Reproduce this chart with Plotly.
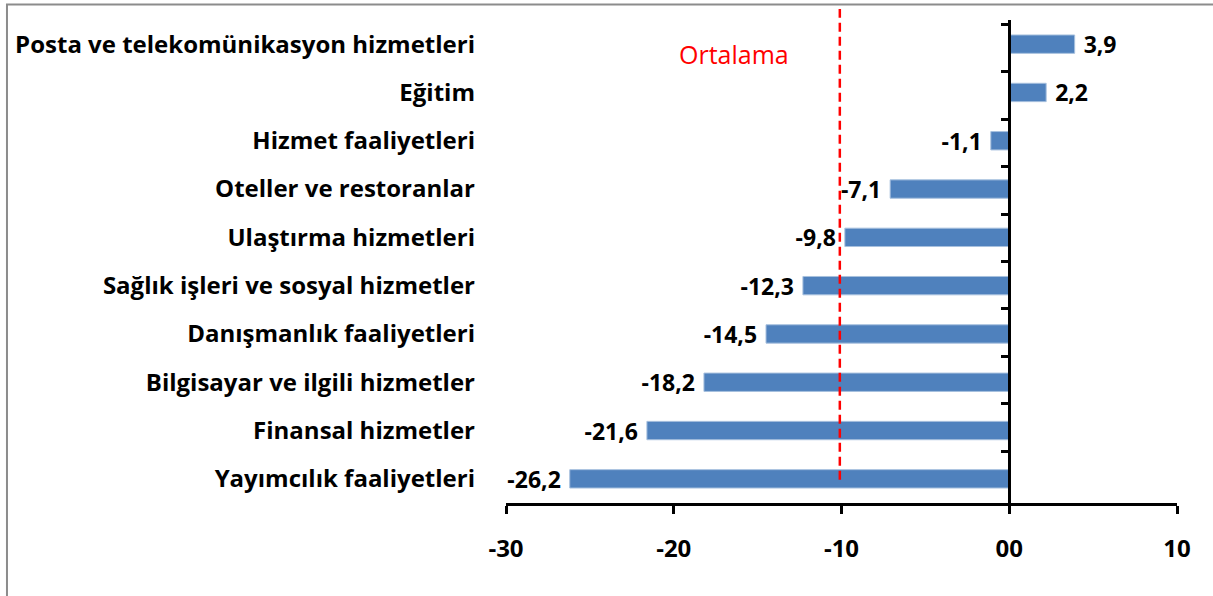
import plotly.graph_objects as go

categories = [
    "Posta ve telekomünikasyon hizmetleri",
    "Eğitim",
    "Hizmet faaliyetleri",
    "Oteller ve restoranlar",
    "Ulaştırma hizmetleri",
    "Sağlık işleri ve sosyal hizmetler",
    "Danışmanlık faaliyetleri",
    "Bilgisayar ve ilgili hizmetler",
    "Finansal hizmetler",
    "Yayımcılık faaliyetleri",
]
values = [3.9, 2.2, -1.1, -7.1, -9.8, -12.3, -14.5, -18.2, -21.6, -26.2]
average = -10.1
average_label = "Ortalama"
x_tickvals = [-30, -20, -10, 0, 10]
x_ticktext = ["-30", "-20", "-10", "00", "10"]

# value labels with decimal comma, padded away from the bar end
labels = [(" " + f"{v:.1f}".replace(".", ",")) if v >= 0 else (f"{v:.1f}".replace(".", ",") + " ")
          for v in values]

FONT = "Open Sans"

fig = go.Figure()
fig.add_trace(go.Bar(
    x=values, y=categories, orientation="h",
    marker=dict(color="#4F81BD", line=dict(color="#A7C0DE", width=1)),
    text=labels, textposition="outside", cliponaxis=False, constraintext="none",
    textfont=dict(family=FONT, size=23, color="black", weight="bold"),
    showlegend=False,
))
# invisible helper trace carrying the zero axis (y2) with category boundary ticks
fig.add_trace(go.Scatter(
    x=values, y=categories, yaxis="y2", mode="markers",
    marker=dict(opacity=0), hoverinfo="skip", showlegend=False,
))

xmin, xmax = -30, 10
fig.update_layout(
    width=1213, height=596,
    margin=dict(l=506, r=36, t=20, b=93),
    paper_bgcolor="white", plot_bgcolor="white",
    bargap=0.62,
    xaxis=dict(
        range=[xmin, xmax], tickvals=x_tickvals, ticktext=x_ticktext,
        showgrid=False, zeroline=False,
        showline=True, linecolor="black", linewidth=2.5,
        ticks="outside", ticklen=8, tickwidth=2.5, tickcolor="black",
        ticklabelstandoff=14,
        tickfont=dict(family=FONT, size=24, color="black", weight="bold"),
    ),
    yaxis=dict(
        type="category", categoryarray=categories, autorange="reversed",
        showgrid=False, zeroline=False, showline=False, ticks="",
        ticklabelstandoff=30,
        tickfont=dict(family=FONT, size=24, color="black", weight="bold"),
    ),
    yaxis2=dict(
        type="category", categoryarray=categories, autorange="reversed",
        overlaying="y", anchor="free", side="left",
        position=(0 - xmin) / (xmax - xmin),
        showgrid=False, zeroline=False, showticklabels=False,
        showline=True, linecolor="black", linewidth=2.5,
        ticks="outside", tickson="boundaries", ticklen=8, tickwidth=2.5, tickcolor="black",
    ),
    shapes=[
        dict(type="line", xref="x", yref="paper", x0=average, x1=average, y0=0.048, y1=1.023,
             line=dict(color="#FF0000", width=2.5, dash="9px,5px")),
        dict(type="rect", xref="paper", yref="paper", x0=-0.7437, x1=1.07, y0=-0.3, y1=1.032,
             line=dict(color="#8C8C8C", width=2), fillcolor="rgba(0,0,0,0)", layer="above"),
    ],
    annotations=[
        dict(text=average_label, xref="x", yref="paper", x=-16.4, y=0.93,
             xanchor="center", yanchor="middle",
             showarrow=False, font=dict(family=FONT, size=25, color="#FF0000")),
    ],
)

fig.write_html("out.html", config={"displayModeBar": False},
               post_script="document.body.style.margin='0';")
